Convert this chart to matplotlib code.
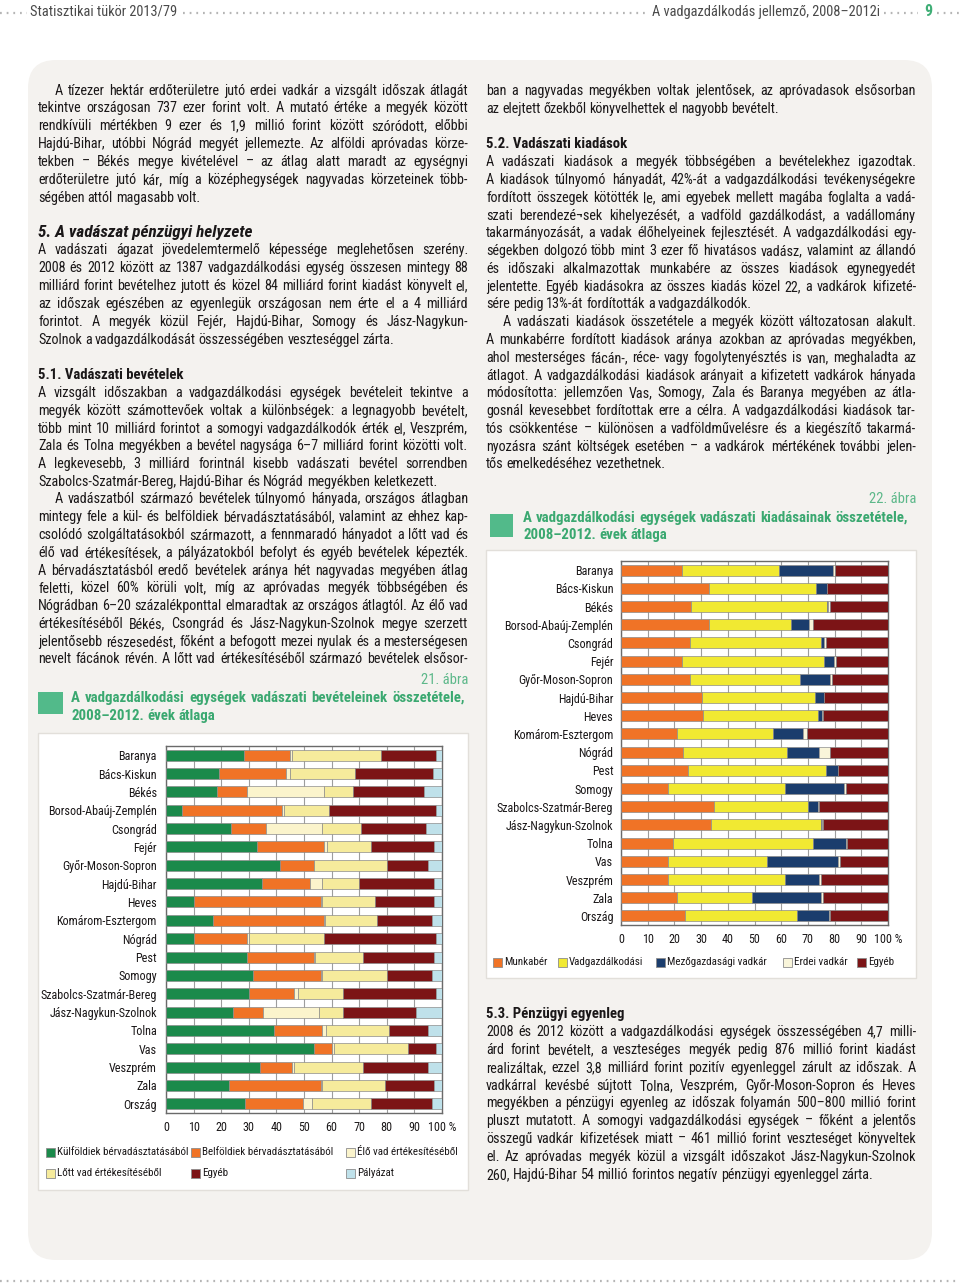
import matplotlib
matplotlib.use("Agg")
import matplotlib.pyplot as plt
from matplotlib import font_manager
from matplotlib.patches import FancyBboxPatch, Rectangle
import numpy as np

# pick a narrow font if one is installed, otherwise a regular sans
names = {f.name for f in font_manager.fontManager.ttflist}
cond = {f.name for f in font_manager.fontManager.ttflist if f.stretch in ("condensed", "semi-condensed")}
FONT, STRETCH = "Liberation Sans", "normal"
for cand in ["Liberation Sans Narrow", "Roboto Condensed", "DejaVu Sans"]:
    if cand in names and (cand != "DejaVu Sans" or cand in cond):
        FONT = cand
        STRETCH = "condensed" if cand == "DejaVu Sans" else "normal"
        break
else:
    if "Liberation Sans" not in names:
        FONT = "DejaVu Sans"

INK = "#1a1718"
GREEN = "#3aa870"

# ---------------- data ----------------
megyek = ["Baranya", "Bács-Kiskun", "Békés", "Borsod-Abaúj-Zemplén", "Csongrád", "Fejér",
          "Győr-Moson-Sopron", "Hajdú-Bihar", "Heves", "Komárom-Esztergom", "Nógrád", "Pest",
          "Somogy", "Szabolcs-Szatmár-Bereg", "Jász-Nagykun-Szolnok", "Tolna", "Vas",
          "Veszprém", "Zala", "Ország"]

# 21. ábra - bevételek (%)
kulfoldi = [28.1, 19.2, 18.6, 5.9, 23.7, 33.1, 41.4, 34.7, 10.3, 16.9, 10.3, 29.5, 31.7, 30.1, 24.3, 39.2, 53.7, 34.1, 22.9, 28.8]
belfoldi = [16.8, 24.2, 10.9, 36.2, 12.5, 24.3, 12.2, 17.4, 45.7, 40.5, 19.0, 24.1, 24.3, 16.2, 11.0, 17.5, 6.5, 11.7, 33.1, 20.8]
elo_vad = [0.8, 1.5, 27.8, 0.6, 20.5, 0.8, 0.2, 4.6, 0.7, 0.2, 0.8, 0.3, 0.7, 1.5, 20.1, 1.3, 0.7, 0.5, 0.7, 3.2]
lott_vad = [32.2, 23.4, 10.3, 16.2, 13.8, 16.0, 26.2, 13.2, 18.9, 18.8, 27.2, 17.3, 23.3, 16.2, 8.6, 22.8, 26.6, 24.9, 22.6, 21.4]
egyeb_bev = [20.0, 28.3, 26.0, 39.0, 23.7, 23.0, 14.9, 27.3, 21.6, 20.1, 40.6, 26.0, 16.5, 33.9, 26.4, 14.1, 10.4, 23.7, 17.9, 22.3]
palyazat = [2.1, 3.4, 6.4, 2.1, 5.8, 2.8, 5.1, 2.8, 2.8, 3.5, 2.1, 2.8, 3.5, 2.1, 9.6, 5.1, 2.1, 5.1, 2.8, 3.5]
bev_labels = ["Külföldiek bérvadásztatásából", "Belföldiek bérvadásztatásából", "Élő vad értékesítéséből",
              "Lőtt vad értékesítéséből", "Egyéb", "Pályázat"]
bev_colors = ["#1b8a4b", "#f07326", "#fbf4cc", "#f6eb9c", "#7c1416", "#bfe1ea"]

# 22. ábra - kiadások (%)
munkaber = [22.7, 33.0, 26.2, 33.0, 25.7, 22.7, 25.7, 30.3, 30.8, 20.9, 23.3, 25.0, 17.6, 34.9, 33.6, 19.3, 17.6, 17.6, 20.9, 23.9]
vadgazd = [36.6, 40.2, 50.9, 30.5, 49.1, 53.3, 41.2, 42.2, 42.9, 36.1, 39.0, 51.7, 44.0, 35.3, 41.2, 52.7, 37.1, 44.0, 28.2, 41.9]
mezo_vadkar = [20.2, 3.8, 0.6, 6.9, 1.2, 3.6, 11.4, 3.5, 1.6, 11.2, 12.0, 4.4, 22.0, 3.5, 0.4, 12.2, 26.6, 12.7, 25.9, 12.0]
erdei_vadkar = [0.6, 0.3, 0.5, 1.6, 0.7, 1.0, 0.7, 0.2, 0.3, 1.5, 3.9, 0.2, 0.5, 0.5, 0.3, 0.4, 0.9, 0.5, 0.8, 0.5]
egyeb_kiad = [19.9, 22.7, 21.8, 28.0, 23.3, 19.4, 21.0, 23.8, 24.4, 30.3, 21.8, 18.7, 15.9, 25.8, 24.5, 15.4, 17.8, 25.2, 24.2, 21.7]
kiad_labels = ["Munkabér", "Vadgazdálkodási", "Mezőgazdasági vadkár", "Erdei vadkár", "Egyéb"]
kiad_colors = ["#f07326", "#f1e932", "#1b3d6d", "#f9f5da", "#7c1416"]
xtick_labels = ["0", "10", "20", "30", "40", "50", "60", "70", "80", "90", "100 %"]

# ---------------- text ----------------
left_col = [
    ("A tízezer hektár erdőterületre jutó erdei vadkár a vizsgált időszak átlagát", 91, "ji"),
    ("tekintve országosan 737 ezer forint volt. A mutató értéke a megyék között", 108, "j"),
    ("rendkívüli mértékben 9 ezer és 1,9 millió forint között szóródott, előbbi", 126, "j"),
    ("Hajdú-Bihar, utóbbi Nógrád megyét jellemezte. Az alföldi apróvadas körze-", 144, "j"),
    ("tekben – Békés megye kivételével – az átlag alatt maradt az egységnyi", 162, "j"),
    ("erdőterületre jutó kár, míg a középhegységek nagyvadas körzeteinek több-", 180, "j"),
    ("ségében attól magasabb volt.", 198, "l"),
    ("A vadászati ágazat jövedelemtermelő képessége meglehetősen szerény.", 250, "j"),
    ("2008 és 2012 között az 1387 vadgazdálkodási egység összesen mintegy 88", 268, "j"),
    ("milliárd forint bevételhez jutott és közel 84 milliárd forint kiadást könyvelt el,", 286, "j"),
    ("az időszak egészében az egyenlegük országosan nem érte el a 4 milliárd", 304, "j"),
    ("forintot. A megyék közül Fejér, Hajdú-Bihar, Somogy és Jász-Nagykun-", 322, "j"),
    ("Szolnok a vadgazdálkodását összességében veszteséggel zárta.", 340, "l"),
    ("A vizsgált időszakban a vadgazdálkodási egységek bevételeit tekintve a", 393, "j"),
    ("megyék között számottevőek voltak a különbségek: a legnagyobb bevételt,", 411, "j"),
    ("több mint 10 milliárd forintot a somogyi vadgazdálkodók érték el, Veszprém,", 429, "j"),
    ("Zala és Tolna megyékben a bevétel nagysága 6–7 milliárd forint közötti volt.", 446, "j"),
    ("A legkevesebb, 3 milliárd forintnál kisebb vadászati bevétel sorrendben", 464, "j"),
    ("Szabolcs-Szatmár-Bereg, Hajdú-Bihar és Nógrád megyékben keletkezett.", 482, "l"),
    ("A vadászatból származó bevételek túlnyomó hányada, országos átlagban", 499, "ji"),
    ("mintegy fele a kül- és belföldiek bérvadásztatásából, valamint az ehhez kap-", 517, "j"),
    ("csolódó szolgáltatásokból származott, a fennmaradó hányadot a lőtt vad és", 535, "j"),
    ("élő vad értékesítések, a pályázatokból befolyt és egyéb bevételek képezték.", 553, "j"),
    ("A bérvadásztatásból eredő bevételek aránya hét nagyvadas megyében átlag", 571, "j"),
    ("feletti, közel 60% körüli volt, míg az apróvadas megyék többségében és", 588, "j"),
    ("Nógrádban 6–20 százalékponttal elmaradtak az országos átlagtól. Az élő vad", 606, "j"),
    ("értékesítéséből Békés, Csongrád és Jász-Nagykun-Szolnok megye szerzett", 624, "j"),
    ("jelentősebb részesedést, főként a befogott mezei nyulak és a mesterségesen", 642, "j"),
    ("nevelt fácánok révén. A lőtt vad értékesítéséből származó bevételek elsősor-", 659, "j"),
]

right_col = [
    ("ban a nagyvadas megyékben voltak jelentősek, az apróvadasok elsősorban", 91, "j"),
    ("az elejtett őzekből könyvelhettek el nagyobb bevételt.", 109, "l"),
    ("A vadászati kiadások a megyék többségében a bevételekhez igazodtak.", 162, "j"),
    ("A kiadások túlnyomó hányadát, 42%-át a vadgazdálkodási tevékenységekre", 180, "j"),
    ("fordított összegek kötötték le, ami egyebek mellett magába foglalta a vadá-", 198, "j"),
    ("szati berendezé¬sek kihelyezését, a vadföld gazdálkodást, a vadállomány", 216, "j"),
    ("takarmányozását, a vadak élőhelyeinek fejlesztését. A vadgazdálkodási egy-", 233, "j"),
    ("ségekben dolgozó több mint 3 ezer fő hivatásos vadász, valamint az állandó", 251, "j"),
    ("és időszaki alkalmazottak munkabére az összes kiadások egynegyedét", 269, "j"),
    ("jelentette. Egyéb kiadásokra az összes kiadás közel 22, a vadkárok kifizeté-", 287, "j"),
    ("sére pedig 13%-át fordították a vadgazdálkodók.", 304, "l"),
    ("A vadászati kiadások összetétele a megyék között változatosan alakult.", 322, "ji"),
    ("A munkabérre fordított kiadások aránya azokban az apróvadas megyékben,", 340, "j"),
    ("ahol mesterséges fácán-, réce- vagy fogolytenyésztés is van, meghaladta az", 358, "j"),
    ("átlagot. A vadgazdálkodási kiadások arányait a kifizetett vadkárok hányada", 376, "j"),
    ("módosította: jellemzően Vas, Somogy, Zala és Baranya megyében az átla-", 393, "j"),
    ("gosnál kevesebbet fordítottak erre a célra. A vadgazdálkodási kiadások tar-", 411, "j"),
    ("tós csökkentése – különösen a vadföldművelésre és a kiegészítő takarmá-", 429, "j"),
    ("nyozásra szánt költségek esetében – a vadkárok mértékének további jelen-", 447, "j"),
    ("tős emelkedéséhez vezethetnek.", 464, "l"),
    ("2008 és 2012 között a vadgazdálkodási egységek összességében 4,7 milli-", 1032, "j"),
    ("árd forint bevételt, a veszteséges megyék pedig 876 millió forint kiadást", 1050, "j"),
    ("realizáltak, ezzel 3,8 milliárd forint pozitív egyenleggel zárult az időszak. A", 1068, "j"),
    ("vadkárral kevésbé sújtott Tolna, Veszprém, Győr-Moson-Sopron és Heves", 1086, "j"),
    ("megyékben a pénzügyi egyenleg az időszak folyamán 500–800 millió forint", 1103, "j"),
    ("pluszt mutatott. A somogyi vadgazdálkodási egységek – főként a jelentős", 1121, "j"),
    ("összegű vadkár kifizetések miatt – 461 millió forint veszteséget könyveltek", 1139, "j"),
    ("el. Az apróvadas megyék közül a vizsgált időszakot Jász-Nagykun-Szolnok", 1157, "j"),
    ("260, Hajdú-Bihar 54 millió forintos negatív pénzügyi egyenleggel zárta.", 1175, "l"),
]

# ---------------- page ----------------
fig = plt.figure(figsize=(9.6, 12.86), dpi=100)
fig.patch.set_facecolor("white")
bg = fig.add_axes([0, 0, 1, 1])
bg.set_xlim(0, 960)
bg.set_ylim(1286, 0)
bg.axis("off")
R = fig.canvas.get_renderer()


def fp(**kw):
    d = dict(family=FONT, fontstretch=STRETCH)
    d.update(kw)
    return d


def measure(txt, size, **kw):
    t = bg.text(0, 0, txt, fontsize=size, **fp(**kw))
    w = t.get_window_extent(renderer=R).width
    t.remove()
    return w


def fit(txt, width, cap=20, **kw):
    return min(cap, 10 * width / measure(txt, 10, **kw))


def justify_size(lines, avail, cap=10.2, **kw):
    best = cap
    sp = 0.22 * 10 * 100 / 72
    for txt, y, m in lines:
        if not m.startswith("j"):
            continue
        words = txt.split()
        ws = sum(measure(w, 10, **kw) for w in words)
        a = avail - (17 if m.endswith("i") else 0)
        best = min(best, 10 * a / (ws + (len(words) - 1) * sp))
    return best


BODY = justify_size(left_col + right_col, 430)

bg.add_patch(FancyBboxPatch((28, 60), 904, 1200, boxstyle="round,pad=0,rounding_size=28",
                            facecolor="#f4f2ef", edgecolor="none", zorder=0))
bg.add_patch(Rectangle((38, 733), 430, 457, facecolor="white", edgecolor="#e2dfda", lw=1, zorder=1))
bg.add_patch(Rectangle((486, 550), 430, 428, facecolor="white", edgecolor="#e2dfda", lw=1, zorder=1))


def put_line(txt, y, x0, x1, mode="j", size=None, **kw):
    size = size or BODY
    props = dict(fontsize=size, color=INK, va="center", ha="left", zorder=5)
    props.update(fp(**{k: v for k, v in kw.items() if k in ("weight", "style")}))
    props.update({k: v for k, v in kw.items() if k not in ("weight", "style")})
    words = txt.split()
    ts = [bg.text(0, y, w, **props) for w in words]
    ws = [t.get_window_extent(renderer=R).width for t in ts]
    start = x0 + (17 if mode.endswith("i") else 0)
    if mode.startswith("j") and len(words) > 1:
        gap = (x1 - start - sum(ws)) / (len(words) - 1)
    else:
        gap = size * 0.3
    x = start
    for t, w in zip(ts, ws):
        t.set_x(x)
        x += w + gap


for txt, y, m in left_col:
    put_line(txt, y, 38, 468, m)
for txt, y, m in right_col:
    put_line(txt, y, 486, 916, m)

# headings
h1 = "5. A vadászat pénzügyi helyzete"
bg.text(38, 232, h1, fontsize=fit(h1, 214, weight="bold", style="italic"), color=INK, va="center",
        **fp(weight="bold", style="italic"))
hs = fit("5.1. Vadászati bevételek", 147, weight="bold")
for x, y, s in [(38, 375, "5.1. Vadászati bevételek"), (486, 144, "5.2. Vadászati kiadások"),
                (486, 1014, "5.3. Pénzügyi egyenleg")]:
    bg.text(x, y, s, fontsize=hs, color=INK, va="center", **fp(weight="bold"))

# chart titles
t1 = "A vadgazdálkodási egységek  vadászati bevételeinek összetétele,"
t2 = "A vadgazdálkodási egységek vadászati kiadásainak összetétele,"
TS = min(justify_size([(t1, 0, "j")], 394, cap=12, weight="bold"),
         justify_size([(t2, 0, "j")], 385, cap=12, weight="bold"))
AS = fit("21. ábra", 47)
bg.text(468, 680, "21. ábra", fontsize=AS, color="#5db88a", ha="right", va="center", **fp())
bg.add_patch(Rectangle((38, 692), 25, 22, facecolor="#52ba8a", edgecolor="none", zorder=2))
put_line(t1, 698, 71, 465, "j", size=TS, weight="bold", color=GREEN)
put_line("2008–2012. évek átlaga", 716, 71, 465, "l", size=TS, weight="bold", color=GREEN)

bg.text(916, 499, "22. ábra", fontsize=AS, color="#5db88a", ha="right", va="center", **fp())
bg.add_patch(Rectangle((490, 514), 23, 23, facecolor="#52ba8a", edgecolor="none", zorder=2))
put_line(t2, 518, 523, 908, "j", size=TS, weight="bold", color=GREEN)
put_line("2008–2012. évek átlaga", 535, 523, 908, "l", size=TS, weight="bold", color=GREEN)

# header / footer
hl = "Statisztikai tükör 2013/79"
hr = "A vadgazdálkodás jellemző, 2008–2012i"
HS = min(fit(hl, 146), fit(hr, 228))
bg.text(30, 12, hl, fontsize=HS, color="#4a4a4a", va="center", **fp())
bg.text(880, 12, hr, fontsize=HS, color="#4a4a4a", va="center", ha="right", **fp())
bg.text(928, 12, "9", fontsize=HS + 1, color="#3fae76", va="center", ha="center", **fp(weight="bold"))
dot = dict(color="#b5b5b5", lw=1.6, linestyle=(0, (0.8, 2.2)), zorder=3)
bg.plot([0, 27], [13, 13], **dot)
bg.plot([30 + measure(hl, HS) + 6, 880 - measure(hr, HS) - 6], [13, 13], **dot)
bg.plot([884, 918], [13, 13], **dot)
bg.plot([937, 960], [13, 13], **dot)
bg.plot([0, 960], [1281, 1281], **dot)

# ---------------- charts ----------------
LS = min(9.5, fit("Szabolcs-Szatmár-Bereg", 117))


def px_axes(x0, y0, x1, y1):
    return fig.add_axes([x0 / 960, 1 - y1 / 1286, (x1 - x0) / 960, (y1 - y0) / 1286])


def stacked(ax, series, colors, ypad):
    y = np.arange(len(megyek))
    left = np.zeros(len(megyek))
    for vals, c in zip(series, colors):
        ax.barh(y, vals, left=left, height=0.6, color=c, edgecolor="#8c8c8c", linewidth=0.5, zorder=3)
        left += np.array(vals)
    ax.set_xlim(0, 100)
    ax.set_ylim(len(megyek) - 0.5, -0.5)
    ax.set_xticks(range(0, 101, 10))
    ax.set_xticklabels(xtick_labels)
    ax.set_yticks(y)
    ax.set_yticklabels(megyek)
    for lab in ax.get_xticklabels() + ax.get_yticklabels():
        lab.set_family(FONT)
        lab.set_stretch(STRETCH)
        lab.set_fontsize(LS)
        lab.set_color(INK)
    ax.tick_params(axis="y", length=0, pad=ypad)
    ax.tick_params(axis="x", length=0, pad=6)
    ax.grid(axis="x", color="#9d9d9d", lw=0.8, zorder=0)
    ax.set_axisbelow(True)
    for s in ax.spines.values():
        s.set_color("#6a6a6a")
        s.set_linewidth(1.0)
    ax.set_facecolor("white")


ax1 = px_axes(166, 746, 442, 1113)
stacked(ax1, [kulfoldi, belfoldi, elo_vad, lott_vad, egyeb_bev, palyazat], bev_colors, 6.5)

ax2 = px_axes(621, 561, 888, 925)
stacked(ax2, [munkaber, vadgazd, mezo_vadkar, erdei_vadkar, egyeb_kiad], kiad_colors, 5.5)

GS = min(fit("Külföldiek bérvadásztatásából", 131), fit("Mezőgazdasági vadkár", 115))


def legend_item(x, y, color, label):
    bg.add_patch(Rectangle((x, y - 4.5), 9, 9, facecolor=color, edgecolor="#8c8c8c", lw=0.6, zorder=4))
    bg.text(x + 11, y, label, fontsize=GS, color=INK, va="center", zorder=5, **fp())


leg21_pos = [(46, 1152), (191, 1152), (346, 1152), (46, 1173), (191, 1173), (346, 1173)]
for (x, y), c, lab in zip(leg21_pos, bev_colors, bev_labels):
    legend_item(x, y, c, lab)

leg22_pos = [(493, 962), (558, 962), (656, 962), (783, 962), (857, 962)]
for (x, y), c, lab in zip(leg22_pos, kiad_colors, kiad_labels):
    legend_item(x, y, c, lab)

fig.savefig("out.png", dpi=100, facecolor="white")
